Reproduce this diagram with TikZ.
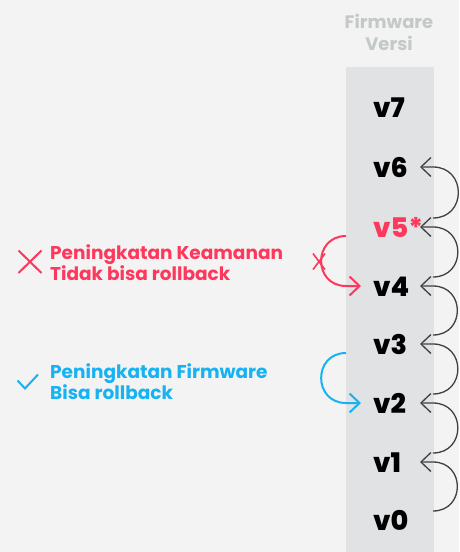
\documentclass[tikz,border=0pt]{standalone}
\usepackage{fontspec}
\setmainfont{Poppins}[BoldFont={Poppins Bold}]
\newfontfamily\heavyfont{Poppins ExtraBold}
\usetikzlibrary{arrows.meta}
\definecolor{pagebg}{RGB}{243,243,243}
\definecolor{colbg}{RGB}{225,226,228}
\definecolor{headgray}{RGB}{196,200,200}
\definecolor{arcgray}{RGB}{64,64,64}
\definecolor{warnred}{RGB}{253,56,92}
\definecolor{okblue}{RGB}{22,178,242}
\begin{document}
\begin{tikzpicture}[x=1pt,y=1pt,
  ver/.style={anchor=west,inner sep=0pt,text height=20pt,text depth=0pt,
    font=\fontsize{27}{27}\heavyfont},
  note/.style={anchor=west,inner sep=0pt,align=left,
    font=\fontsize{18.5}{21}\selectfont\bfseries},
  steparc/.style={draw=arcgray,line width=1.3pt,
    -{Straight Barb[length=10pt,width=19pt]}},
  jump/.style={line width=2pt,-{Straight Barb[length=10pt,width=19pt]}},
  cutmark/.style={line width=1.6pt}]
  % page and version column
  \fill[pagebg] (0,0) rectangle (459,-552);
  \fill[colbg] (346,-67) rectangle (434,-552);
  \useasboundingbox (0,0) rectangle (459,-552);

  % column heading
  \node[headgray,align=center,inner sep=0pt,
    font=\fontsize{18}{22}\selectfont\bfseries] (head) at (389,-32) {Firmware\\Versi};

  % version labels
  \node[ver] (v7) at (373,-107) {v7};
  \node[ver] (v6) at (373,-167) {v6};
  \node[ver,text=warnred] (v5) at (373,-227) {v5*};
  \node[ver] (v4) at (373,-286) {v4};
  \node[ver] (v3) at (373,-344) {v3};
  \node[ver] (v2) at (373,-403) {v2};
  \node[ver] (v1) at (373,-462) {v1};
  \node[ver] (v0) at (373,-520) {v0};

  % reference columns for connector ends
  \coordinate (rim) at (433,0);
  \coordinate (tip) at (420,0);
  \coordinate (colL) at (346,0);
  \coordinate (inL) at (361,0);

  % step-by-step upgrade arcs
  \foreach \lo/\hi in {v0/v1,v1/v2,v2/v3,v3/v4,v4/v5,v5/v6}{
    \draw[steparc] ([yshift=9pt]\lo.west -| rim)
      to[out=0,in=0,looseness=1.7] (\hi.west -| rim) -- (\hi.west -| tip);
  }

  % security upgrade: no rollback
  \draw[jump,warnred] ([yshift=-9pt]v5.west -| colL)
    to[out=180,in=180,looseness=1.7] (v4.west -| colL) -- (v4.west -| inL);
  \coordinate (cut) at (319,-261.5);
  \draw[cutmark,warnred]
    ([shift={(-6,8)}]cut) -- ([shift={(6,-8)}]cut)
    ([shift={(-6,-8)}]cut) -- ([shift={(6,8)}]cut);

  % firmware upgrade: rollback allowed
  \draw[jump,okblue] ([yshift=-9pt]v3.west -| colL)
    to[out=180,in=180,looseness=1.7] (v2.west -| colL) -- (v2.west -| inL);

  % legend
  \node[note,text=warnred] (secnote) at (50,-262.5) {Peningkatan Keamanan\\Tidak bisa rollback};
  \draw[warnred,line width=2pt] (18.5,-250.5) -- (41.5,-273) (18.5,-273) -- (41.5,-250.5);
  \node[note,text=okblue] (fwnote) at (50,-382) {Peningkatan Firmware\\Bisa rollback};
  \draw[okblue,line width=2pt] (17.5,-380.5) -- (25,-388.5) -- (38,-374.5);
\end{tikzpicture}
\end{document}
